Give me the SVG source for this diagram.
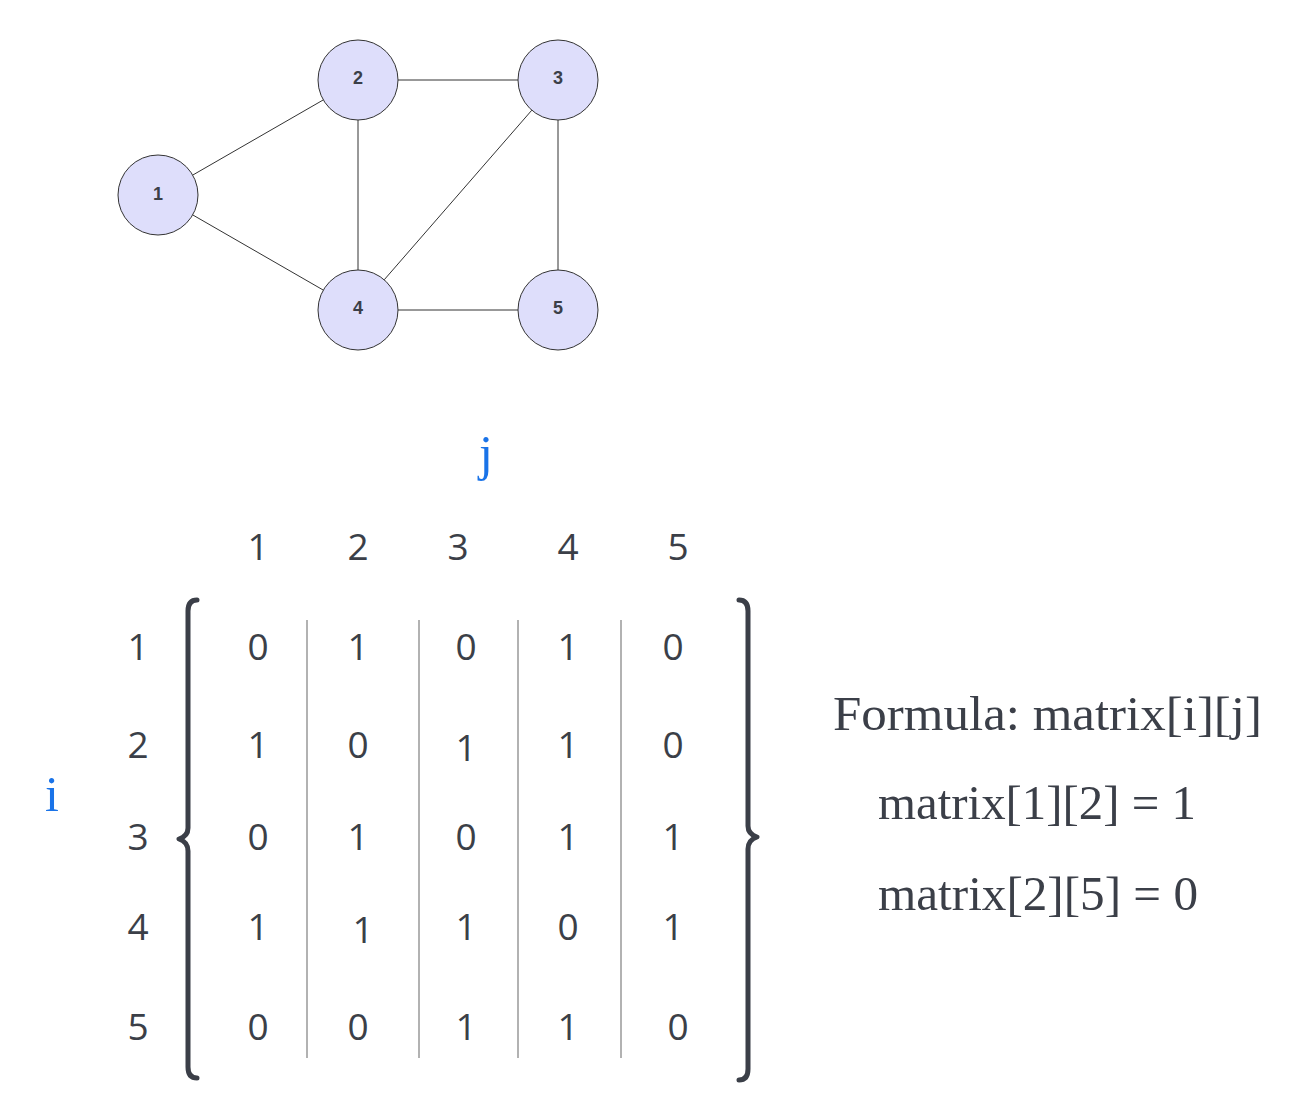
<svg xmlns="http://www.w3.org/2000/svg" width="1308" height="1120" viewBox="0 0 1308 1120">
<style>
.node circle{fill:#dedefb;stroke:#333;stroke-width:1}
.node text{font-family:"Liberation Sans",Arial,sans-serif;font-weight:bold;font-size:18px;fill:#3b3f48;text-anchor:middle}
.edge{stroke:#333;stroke-width:1;fill:none}
.num{font-family:"Open Sans","Liberation Sans",sans-serif;font-size:37px;fill:#3b3f48;text-anchor:middle}
.sep{stroke:#999;stroke-width:1.5}
.brace{stroke:#3b3f48;stroke-width:5;fill:none;stroke-linecap:round;stroke-linejoin:round}
.idx{font-family:"Liberation Serif",serif;font-size:50px;fill:#1a73e8;text-anchor:middle}
.formula{font-family:"Liberation Serif",serif;font-size:49px;fill:#3b3f48}
</style>
<rect width="1308" height="1120" fill="#fff"/>
<g id="edges">
<line class="edge" x1="192.7" y1="175.1" x2="323.3" y2="99.9"/>
<line class="edge" x1="192.7" y1="214.9" x2="323.3" y2="290.1"/>
<line class="edge" x1="358" y1="120" x2="358" y2="270"/>
<line class="edge" x1="398" y1="80" x2="518" y2="80"/>
<line class="edge" x1="531.8" y1="110.2" x2="384.2" y2="279.8"/>
<line class="edge" x1="558" y1="120" x2="558" y2="270"/>
<line class="edge" x1="398" y1="310" x2="518" y2="310"/>
</g>
<g id="node1" class="node"><circle cx="158" cy="195" r="40"/><text x="158" y="200">1</text></g>
<g id="node2" class="node"><circle cx="358" cy="80" r="40"/><text x="358" y="84">2</text></g>
<g id="node3" class="node"><circle cx="558" cy="80" r="40"/><text x="558" y="84">3</text></g>
<g id="node4" class="node"><circle cx="358" cy="310" r="40"/><text x="358" y="314">4</text></g>
<g id="node5" class="node"><circle cx="558" cy="310" r="40"/><text x="558" y="314">5</text></g>

<g id="matrix">
<text class="idx" x="486" y="470">j</text>
<text class="idx" x="52" y="811">i</text>
<g id="col-headers">
<text class="num" x="258" y="560">1</text>
<text class="num" x="358" y="560">2</text>
<text class="num" x="458" y="560">3</text>
<text class="num" x="568" y="560">4</text>
<text class="num" x="678" y="560">5</text>
</g>
<g id="row-headers">
<text class="num" x="138" y="660">1</text>
<text class="num" x="138" y="758">2</text>
<text class="num" x="138" y="850">3</text>
<text class="num" x="138" y="940">4</text>
<text class="num" x="138" y="1040">5</text>
</g>
<path class="brace" d="M197,600 Q188,600 188,611 L188,828 Q188,836 179,839 Q188,842 188,851 L188,1067 Q188,1078 197,1078"/>
<path class="brace" d="M739,600 Q748,600 748,611 L748,826 Q748,834 757,837 Q748,840 748,849 L748,1069 Q748,1080 739,1080"/>
<line class="sep" x1="307" y1="620" x2="307" y2="1058"/>
<line class="sep" x1="419" y1="620" x2="419" y2="1058"/>
<line class="sep" x1="518" y1="620" x2="518" y2="1058"/>
<line class="sep" x1="621" y1="620" x2="621" y2="1058"/>
<g id="cells">
<text class="num" x="258" y="660">0</text><text class="num" x="358" y="660">1</text><text class="num" x="466" y="660">0</text><text class="num" x="568" y="660">1</text><text class="num" x="673" y="660">0</text>
<text class="num" x="258" y="758">1</text><text class="num" x="358" y="758">0</text><text class="num" x="466" y="761">1</text><text class="num" x="568" y="758">1</text><text class="num" x="673" y="758">0</text>
<text class="num" x="258" y="850">0</text><text class="num" x="358" y="850">1</text><text class="num" x="466" y="850">0</text><text class="num" x="568" y="850">1</text><text class="num" x="673" y="850">1</text>
<text class="num" x="258" y="940">1</text><text class="num" x="363" y="943">1</text><text class="num" x="466" y="940">1</text><text class="num" x="568" y="940">0</text><text class="num" x="673" y="940">1</text>
<text class="num" x="258" y="1040">0</text><text class="num" x="358" y="1040">0</text><text class="num" x="466" y="1040">1</text><text class="num" x="568" y="1040">1</text><text class="num" x="678" y="1040">0</text>
</g>
</g>
<g id="formula">
<text class="formula" x="833" y="730" textLength="429" lengthAdjust="spacingAndGlyphs">Formula: matrix[i][j]</text>
<text class="formula" x="878" y="819" textLength="318" lengthAdjust="spacingAndGlyphs">matrix[1][2] = 1</text>
<text class="formula" x="878" y="910" textLength="320" lengthAdjust="spacingAndGlyphs">matrix[2][5] = 0</text>
</g>
</svg>
